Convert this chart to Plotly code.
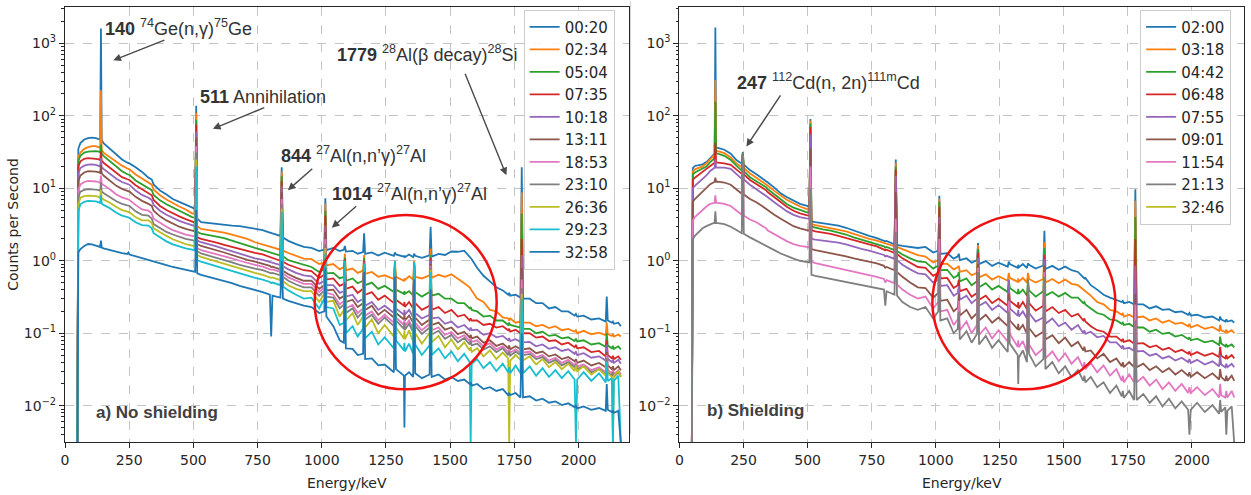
import math
import plotly.graph_objects as go

# Shared energy axis (keV) for every spectrum
ENERGY_KEV = [
    48, 52, 60, 75, 90, 105, 120, 132, 137, 140,
    143, 150, 175, 200, 222, 243, 247, 251, 275, 300,
    325, 338, 345, 370, 395, 420, 445, 470, 495, 507,
    511, 515, 530, 560, 590, 620, 650, 680, 710, 740,
    770, 798, 803, 808, 839, 844, 849, 870, 900, 930,
    960, 990, 1010, 1014, 1018, 1045, 1070, 1086, 1090, 1094,
    1120, 1140, 1161, 1165, 1169, 1195, 1220, 1245, 1281, 1285,
    1289, 1320, 1322, 1324, 1340, 1356, 1360, 1364, 1390, 1420,
    1424, 1428, 1455, 1480, 1505, 1530, 1555, 1576, 1580, 1584,
    1605, 1630, 1655, 1680, 1705, 1726, 1730, 1734, 1755, 1774,
    1779, 1784, 1810, 1835, 1860, 1885, 1910, 1935, 1960, 1985,
    1990, 1995, 2020, 2050, 2080, 2106, 2110, 2114, 2130, 2134,
    2138, 2155, 2165,
]

# ---- a) No shielding: counts per second for each acquisition time ----
A_0020 = [
    0.002, 35, 42, 47, 49, 50, 49, 48, 47, 1600,
    46, 42, 35, 29, 25, 22.5, 22.5, 22, 19.5, 16.8,
    14, 13.2, 11.3, 9.3, 8.2, 7.1, 6.5, 5.9, 5.4, 5.2,
    137, 3.8, 3.4, 3.3, 3.2, 3.15, 3.05, 3.0, 2.9, 2.8,
    2.65, 2.45, 2.4, 2.38, 2.2, 19.4, 2.1, 1.88, 1.7, 1.55,
    1.5, 1.36, 1.43, 7.3, 1.4, 1.5, 1.36, 1.42, 1.6, 1.34,
    1.37, 1.25, 1.32, 2.4, 1.24, 1.3, 1.18, 1.29, 1.17, 1.3,
    1.22, 1.14, 1.18, 1.12, 1.22, 1.12, 1.25, 1.17, 1.1, 1.19,
    2.95, 1.14, 1.24, 1.2, 1.34, 1.33, 1.38, 1.15, 1.08, 1.05,
    0.8, 0.62, 0.52, 0.43, 0.39, 0.34, 0.36, 0.33, 0.34, 0.31,
    19.4, 0.3, 0.3, 0.26, 0.26, 0.22, 0.23, 0.2, 0.2, 0.175,
    0.185, 0.17, 0.175, 0.155, 0.16, 0.145, 0.32, 0.15, 0.14, 0.145,
    0.135, 0.14, 0.125,
]
A_0234 = [
    0.002, 27, 31, 35, 37, 38, 38, 37, 36, 225,
    34, 31, 27, 23, 20.5, 18.7, 18.5, 18.2, 15.5, 13.5,
    12, 11.2, 9.6, 8, 7, 6.2, 5.6, 5.1, 4.5, 4.4,
    110, 3.0, 2.75, 2.65, 2.55, 2.45, 2.3, 2.15, 2.0, 1.8,
    1.68, 1.58, 1.55, 1.55, 1.42, 17, 1.38, 1.28, 1.18, 1.07,
    1.05, 0.9, 0.94, 6.1, 0.86, 0.9, 0.76, 0.82, 1.26, 0.74,
    0.78, 0.68, 0.73, 1.2, 0.66, 0.7, 0.6, 0.63, 0.56, 1.0,
    0.6, 0.53, 0.57, 0.54, 0.61, 0.55, 1.0, 0.6, 0.57, 0.63,
    1.47, 0.58, 0.64, 0.6, 0.65, 0.57, 0.49, 0.43, 0.4, 0.39,
    0.3, 0.27, 0.21, 0.2, 0.165, 0.16, 0.15, 0.16, 0.14, 0.145,
    8.8, 0.14, 0.14, 0.125, 0.13, 0.118, 0.125, 0.11, 0.115, 0.105,
    0.11, 0.1, 0.108, 0.097, 0.102, 0.094, 0.14, 0.097, 0.092, 0.098,
    0.09, 0.096, 0.09,
]
A_0504 = [
    0.002, 24, 28, 31, 32, 32.5, 32.5, 32, 31, 40,
    30, 28, 23.5, 19.5, 17.2, 15.6, 15.5, 15.3, 12.8, 11.2,
    10, 9.4, 8.1, 6.8, 6.0, 5.4, 4.9, 4.4, 4.0, 3.9,
    88, 2.5, 2.36, 2.25, 2.15, 2.05, 1.9, 1.75, 1.6, 1.5,
    1.4, 1.3, 1.27, 1.28, 1.18, 14.6, 1.15, 1.02, 0.95, 0.87,
    0.82, 0.7, 0.76, 4.9, 0.67, 0.68, 0.57, 0.6, 1.1, 0.53,
    0.57, 0.49, 0.53, 1.1, 0.46, 0.5, 0.41, 0.45, 0.37, 0.95,
    0.4, 0.35, 0.38, 0.35, 0.38, 0.33, 0.95, 0.37, 0.32, 0.37,
    1.2, 0.33, 0.35, 0.3, 0.3, 0.26, 0.26, 0.22, 0.23, 0.21,
    0.2, 0.17, 0.175, 0.15, 0.15, 0.13, 0.14, 0.13, 0.125, 0.12,
    4.5, 0.115, 0.115, 0.1, 0.105, 0.092, 0.095, 0.085, 0.088, 0.078,
    0.084, 0.077, 0.08, 0.07, 0.073, 0.065, 0.1, 0.068, 0.062, 0.067,
    0.061, 0.066, 0.06,
]
A_0735 = [
    0.002, 20, 23.5, 25.5, 26, 26, 25.5, 25, 24.5, 32,
    24, 22.5, 19, 16, 14.2, 13.3, 13.2, 13, 11, 9.6,
    8.6, 8, 6.9, 5.7, 5.0, 4.5, 4.1, 3.75, 3.45, 3.35,
    75, 2.1, 2.0, 1.9, 1.78, 1.66, 1.55, 1.45, 1.35, 1.28,
    1.22, 1.12, 1.1, 1.1, 1.0, 12.5, 0.97, 0.88, 0.8, 0.74,
    0.72, 0.58, 0.64, 4.2, 0.55, 0.57, 0.45, 0.48, 1.05, 0.41,
    0.44, 0.36, 0.41, 1.0, 0.34, 0.37, 0.29, 0.33, 0.26, 0.92,
    0.29, 0.24, 0.27, 0.23, 0.27, 0.22, 0.9, 0.26, 0.21, 0.24,
    1.1, 0.21, 0.23, 0.19, 0.21, 0.17, 0.18, 0.15, 0.16, 0.15,
    0.15, 0.13, 0.135, 0.12, 0.125, 0.11, 0.115, 0.105, 0.112, 0.1,
    2.0, 0.1, 0.1, 0.087, 0.09, 0.078, 0.08, 0.07, 0.074, 0.064,
    0.069, 0.062, 0.064, 0.055, 0.057, 0.048, 0.08, 0.05, 0.045, 0.049,
    0.044, 0.048, 0.043,
]
A_1018 = [
    0.002, 16, 19, 20.5, 21.2, 21.4, 21, 20.5, 20, 26,
    19.5, 18.5, 15.8, 13.5, 12.2, 11.4, 11.3, 11.2, 9.3, 8.1,
    7.4, 6.9, 5.9, 4.9, 4.3, 3.9, 3.55, 3.3, 3.1, 3.0,
    60, 1.9, 1.8, 1.7, 1.58, 1.46, 1.35, 1.25, 1.15, 1.08,
    1.03, 0.97, 0.95, 0.95, 0.87, 10.7, 0.84, 0.76, 0.68, 0.63,
    0.61, 0.48, 0.53, 3.05, 0.46, 0.46, 0.36, 0.38, 1.0, 0.32,
    0.34, 0.27, 0.3, 0.95, 0.24, 0.27, 0.21, 0.24, 0.19, 0.9,
    0.22, 0.18, 0.21, 0.18, 0.21, 0.165, 0.88, 0.19, 0.16, 0.18,
    1.0, 0.16, 0.165, 0.135, 0.145, 0.12, 0.13, 0.11, 0.12, 0.11,
    0.112, 0.095, 0.1, 0.088, 0.092, 0.08, 0.086, 0.078, 0.083, 0.076,
    1.2, 0.075, 0.076, 0.066, 0.07, 0.061, 0.064, 0.057, 0.06, 0.052,
    0.056, 0.05, 0.053, 0.046, 0.048, 0.042, 0.07, 0.044, 0.04, 0.043,
    0.039, 0.043, 0.038,
]
A_1311 = [
    0.002, 12.5, 15, 16.5, 17.2, 17.3, 17, 16.6, 16.2, 21,
    16, 15, 12.8, 10.8, 9.8, 9.2, 9.1, 9.0, 7.6, 6.7,
    6.1, 5.7, 4.9, 4.1, 3.6, 3.25, 2.95, 2.75, 2.6, 2.55,
    50, 1.7, 1.6, 1.5, 1.4, 1.3, 1.2, 1.1, 1.03, 0.97,
    0.91, 0.85, 0.82, 0.83, 0.76, 8.8, 0.73, 0.65, 0.58, 0.53,
    0.53, 0.41, 0.46, 2.5, 0.39, 0.4, 0.3, 0.33, 0.95, 0.27,
    0.29, 0.23, 0.26, 0.9, 0.21, 0.24, 0.18, 0.21, 0.165, 0.88,
    0.19, 0.155, 0.18, 0.15, 0.175, 0.14, 0.86, 0.165, 0.13, 0.155,
    0.9, 0.13, 0.14, 0.112, 0.12, 0.097, 0.105, 0.088, 0.095, 0.085,
    0.09, 0.074, 0.08, 0.067, 0.072, 0.062, 0.068, 0.06, 0.066, 0.06,
    0.8, 0.06, 0.062, 0.053, 0.056, 0.048, 0.051, 0.044, 0.047, 0.041,
    0.044, 0.039, 0.042, 0.036, 0.039, 0.034, 0.055, 0.036, 0.032, 0.035,
    0.031, 0.035, 0.031,
]
A_1853 = [
    0.002, 9.5, 11.3, 12.2, 12.6, 12.6, 12.4, 12.1, 11.8, 15,
    11.6, 11.1, 9.7, 8.2, 7.5, 7.1, 7.0, 6.9, 5.9, 5.1,
    4.9, 4.5, 3.8, 3.3, 2.95, 2.65, 2.45, 2.3, 2.2, 2.15,
    38, 1.5, 1.4, 1.32, 1.24, 1.16, 1.08, 1.0, 0.93, 0.88,
    0.83, 0.77, 0.75, 0.76, 0.7, 7.1, 0.67, 0.59, 0.53, 0.48,
    0.48, 0.37, 0.43, 2.0, 0.36, 0.34, 0.25, 0.28, 0.92, 0.22,
    0.245, 0.19, 0.22, 0.88, 0.175, 0.2, 0.15, 0.18, 0.14, 0.86,
    0.165, 0.13, 0.155, 0.125, 0.15, 0.115, 0.84, 0.14, 0.11, 0.135,
    0.85, 0.11, 0.12, 0.095, 0.104, 0.085, 0.094, 0.078, 0.085, 0.076,
    0.08, 0.066, 0.073, 0.06, 0.066, 0.055, 0.06, 0.054, 0.06, 0.054,
    0.55, 0.054, 0.056, 0.047, 0.05, 0.042, 0.046, 0.039, 0.043, 0.036,
    0.04, 0.035, 0.037, 0.031, 0.034, 0.029, 0.05, 0.031, 0.028, 0.031,
    0.027, 0.031, 0.027,
]
A_2310 = [
    0.002, 7.5, 9.0, 9.5, 9.7, 9.7, 9.6, 9.4, 9.2, 12,
    9.0, 8.6, 7.6, 6.6, 6.1, 5.8, 5.75, 5.7, 4.8, 4.3,
    4.2, 3.8, 3.2, 2.8, 2.5, 2.3, 2.15, 2.0, 1.92, 1.88,
    31, 1.35, 1.26, 1.18, 1.1, 1.02, 0.95, 0.88, 0.82, 0.78,
    0.74, 0.69, 0.67, 0.68, 0.63, 6.1, 0.6, 0.53, 0.47, 0.43,
    0.43, 0.33, 0.39, 1.7, 0.32, 0.31, 0.22, 0.25, 0.9, 0.19,
    0.22, 0.165, 0.2, 0.86, 0.155, 0.18, 0.135, 0.165, 0.125, 0.85,
    0.15, 0.115, 0.14, 0.112, 0.135, 0.103, 0.82, 0.126, 0.098, 0.12,
    0.8, 0.096, 0.108, 0.084, 0.095, 0.075, 0.086, 0.07, 0.078, 0.068,
    0.072, 0.06, 0.066, 0.055, 0.062, 0.05, 0.056, 0.049, 0.056, 0.05,
    0.42, 0.05, 0.052, 0.044, 0.047, 0.039, 0.043, 0.036, 0.04, 0.034,
    0.037, 0.032, 0.035, 0.029, 0.032, 0.027, 0.045, 0.029, 0.026, 0.029,
    0.025, 0.029, 0.025,
]
A_2636 = [
    0.002, 6.0, 7.4, 7.8, 7.9, 7.9, 7.8, 7.6, 7.4, 9.5,
    7.3, 7.0, 6.3, 5.5, 5.0, 4.75, 4.7, 4.65, 4.0, 3.6,
    3.6, 3.3, 2.8, 2.45, 2.2, 1.98, 1.82, 1.7, 1.62, 1.58,
    25, 1.2, 1.13, 1.05, 0.98, 0.9, 0.84, 0.78, 0.72, 0.68,
    0.64, 0.6, 0.58, 0.59, 0.54, 5.2, 0.52, 0.46, 0.41, 0.38,
    0.38, 0.27, 0.35, 1.5, 0.27, 0.28, 0.17, 0.21, 0.88, 0.15,
    0.19, 0.13, 0.17, 0.84, 0.12, 0.155, 0.1, 0.13, 0.09, 0.84,
    0.12, 0.085, 0.11, 0.082, 0.11, 0.075, 0.8, 0.1, 0.072, 0.1,
    0.75, 0.075, 0.092, 0.064, 0.082, 0.06, 0.075, 0.058, 0.064, 0.055,
    0.062, 0.048, 0.058, 0.044, 0.054, 0.045, 0.003, 0.042, 0.05, 0.043,
    0.35, 0.042, 0.048, 0.037, 0.044, 0.034, 0.04, 0.032, 0.038, 0.03,
    0.036, 0.03, 0.035, 0.027, 0.032, 0.026, 0.04, 0.028, 0.025, 0.003,
    0.026, 0.03, 0.025,
]
A_2923 = [
    0.002, 4.8, 6.0, 6.5, 6.7, 6.7, 6.6, 6.4, 6.2, 8.0,
    6.1, 5.9, 5.3, 4.6, 4.2, 4.0, 3.95, 3.9, 3.4, 3.1,
    3.06, 2.8, 2.4, 2.1, 1.85, 1.68, 1.57, 1.48, 1.42, 1.38,
    20, 1.03, 0.97, 0.9, 0.84, 0.78, 0.72, 0.66, 0.61, 0.58,
    0.55, 0.51, 0.49, 0.5, 0.46, 4.7, 0.44, 0.39, 0.34, 0.3,
    0.31, 0.22, 0.3, 1.25, 0.23, 0.22, 0.13, 0.14, 1.0, 0.1,
    0.125, 0.09, 0.115, 0.9, 0.085, 0.105, 0.07, 0.088, 0.062, 1.0,
    0.08, 0.058, 0.074, 0.056, 0.072, 0.052, 0.95, 0.07, 0.05, 0.068,
    0.7, 0.05, 0.062, 0.045, 0.056, 0.041, 0.052, 0.04, 0.003, 0.038,
    0.044, 0.033, 0.04, 0.03, 0.038, 0.029, 0.034, 0.028, 0.036, 0.028,
    0.3, 0.028, 0.035, 0.026, 0.033, 0.025, 0.031, 0.024, 0.03, 0.023,
    0.003, 0.023, 0.029, 0.022, 0.028, 0.021, 0.04, 0.022, 0.024, 0.003,
    0.022, 0.026, 0.003,
]
A_3258 = [
    0.002, 1.3, 1.45, 1.6, 1.7, 1.68, 1.62, 1.58, 1.55, 1.9,
    1.52, 1.48, 1.4, 1.32, 1.27, 1.24, 1.3, 1.22, 1.15, 1.08,
    1.02, 0.98, 0.96, 0.92, 0.87, 0.82, 0.78, 0.74, 0.71, 0.7,
    5, 0.67, 0.64, 0.6, 0.56, 0.53, 0.49, 0.45, 0.42, 0.4,
    0.37, 0.34, 0.09, 0.33, 0.31, 1.0, 0.3, 0.28, 0.26, 0.24,
    0.23, 0.19, 0.2, 0.8, 0.17, 0.125, 0.08, 0.074, 0.5, 0.062,
    0.061, 0.05, 0.052, 0.7, 0.044, 0.045, 0.036, 0.037, 0.029, 0.6,
    0.032, 0.026, 0.005, 0.026, 0.029, 0.025, 0.55, 0.028, 0.024, 0.027,
    0.4, 0.025, 0.027, 0.023, 0.025, 0.022, 0.023, 0.02, 0.021, 0.019,
    0.02, 0.017, 0.018, 0.016, 0.017, 0.014, 0.015, 0.014, 0.015, 0.013,
    0.1, 0.013, 0.0135, 0.0118, 0.0125, 0.011, 0.0115, 0.0102, 0.0108, 0.0095,
    0.01, 0.0092, 0.0098, 0.0088, 0.0093, 0.0085, 0.02, 0.0088, 0.0082, 0.0086,
    0.008, 0.0085, 0.003,
]

# ---- b) Shielding ----
B_0200 = [
    0.002, 19, 20.3, 21, 21.4, 23, 26, 28, 30, 1650,
    36, 36, 34, 30, 24.5, 21.8, 31.5, 21.2, 17.8, 15.6,
    13.6, 12.6, 12, 10.2, 8.5, 7.5, 6.7, 6.1, 5.75, 5.6,
    90, 3.5, 3.4, 3.3, 3.2, 3.05, 2.85, 2.6, 2.4, 2.2,
    2.05, 1.9, 1.85, 1.88, 1.68, 25, 1.66, 1.6, 1.55, 1.5,
    1.55, 1.3, 1.38, 7.9, 1.24, 1.27, 1.07, 1.15, 1.25, 1.02,
    1.08, 0.94, 1.02, 1.75, 0.9, 0.99, 0.85, 0.94, 0.83, 0.97,
    0.9, 0.8, 0.88, 0.81, 0.9, 0.79, 0.92, 0.88, 0.78, 0.86,
    2.6, 0.77, 0.85, 0.75, 0.83, 0.74, 0.7, 0.6, 0.57, 0.58,
    0.46, 0.4, 0.34, 0.31, 0.29, 0.27, 0.28, 0.26, 0.27, 0.25,
    9.7, 0.25, 0.25, 0.22, 0.235, 0.21, 0.215, 0.195, 0.2, 0.18,
    0.19, 0.175, 0.18, 0.165, 0.17, 0.15, 0.17, 0.155, 0.145, 0.155,
    0.145, 0.15, 0.14,
]
B_0318 = [
    0.002, 17, 18.2, 19, 20, 22, 25, 27, 29, 310,
    32.6, 32.6, 30.5, 26.5, 22, 19.5, 30.5, 19, 16, 14,
    12.3, 11.5, 10.8, 9.2, 7.9, 6.9, 6.2, 5.6, 5.2, 5.05,
    85, 3.2, 3.1, 2.95, 2.85, 2.7, 2.55, 2.35, 2.15, 2.0,
    1.9, 1.78, 1.72, 1.74, 1.58, 22.5, 1.55, 1.45, 1.32, 1.2,
    1.14, 0.95, 1.02, 7.1, 0.9, 0.91, 0.76, 0.81, 0.85, 0.7,
    0.74, 0.63, 0.68, 1.65, 0.59, 0.65, 0.55, 0.61, 0.53, 0.68,
    0.58, 0.51, 0.57, 0.51, 0.58, 0.5, 0.68, 0.56, 0.5, 0.56,
    1.8, 0.5, 0.56, 0.49, 0.55, 0.48, 0.46, 0.4, 0.38, 0.38,
    0.33, 0.27, 0.25, 0.21, 0.2, 0.18, 0.19, 0.17, 0.18, 0.165,
    6.7, 0.165, 0.17, 0.15, 0.16, 0.14, 0.15, 0.135, 0.14, 0.125,
    0.135, 0.12, 0.13, 0.115, 0.122, 0.108, 0.13, 0.11, 0.104, 0.112,
    0.102, 0.11, 0.1,
]
B_0442 = [
    0.002, 15.5, 16.5, 17.5, 18.5, 20, 23, 25, 27, 156,
    30, 30, 28, 24.5, 20.5, 17.5, 30, 17.2, 14.2, 12.6,
    11, 10.3, 9.7, 8.2, 6.9, 6.0, 5.4, 5.0, 4.7, 4.6,
    78, 2.95, 2.85, 2.7, 2.6, 2.45, 2.3, 2.1, 1.95, 1.82,
    1.72, 1.58, 1.52, 1.55, 1.4, 20, 1.36, 1.22, 1.08, 0.98,
    0.96, 0.78, 0.86, 6.5, 0.74, 0.75, 0.58, 0.63, 0.7, 0.52,
    0.57, 0.46, 0.52, 1.45, 0.43, 0.49, 0.4, 0.45, 0.37, 0.55,
    0.42, 0.35, 0.41, 0.35, 0.4, 0.33, 0.55, 0.39, 0.32, 0.38,
    1.5, 0.33, 0.37, 0.32, 0.36, 0.31, 0.31, 0.26, 0.27, 0.25,
    0.22, 0.19, 0.18, 0.155, 0.15, 0.135, 0.14, 0.13, 0.135, 0.122,
    4.0, 0.12, 0.12, 0.105, 0.112, 0.098, 0.102, 0.09, 0.095, 0.083,
    0.088, 0.08, 0.084, 0.075, 0.079, 0.069, 0.09, 0.072, 0.066, 0.071,
    0.065, 0.07, 0.064,
]
B_0648 = [
    0.002, 13, 14, 15.5, 17, 18.5, 20.3, 21.5, 22.5, 42,
    22.5, 22.5, 22, 21, 18, 15.8, 29.5, 15.5, 13, 11.4,
    10, 9.4, 8.8, 7.5, 6.3, 5.5, 4.9, 4.5, 4.25, 4.15,
    70, 2.65, 2.55, 2.45, 2.35, 2.2, 2.05, 1.9, 1.78, 1.68,
    1.58, 1.45, 1.4, 1.42, 1.28, 18.2, 1.24, 1.08, 0.93, 0.82,
    0.8, 0.62, 0.68, 5.5, 0.57, 0.58, 0.42, 0.46, 0.55, 0.38,
    0.41, 0.32, 0.36, 1.3, 0.29, 0.33, 0.26, 0.3, 0.24, 0.45,
    0.28, 0.23, 0.27, 0.22, 0.27, 0.215, 0.45, 0.26, 0.205, 0.24,
    1.2, 0.2, 0.23, 0.19, 0.21, 0.17, 0.185, 0.15, 0.16, 0.145,
    0.125, 0.11, 0.105, 0.09, 0.09, 0.078, 0.084, 0.076, 0.08, 0.072,
    2.0, 0.072, 0.073, 0.064, 0.068, 0.059, 0.063, 0.055, 0.059, 0.052,
    0.056, 0.05, 0.055, 0.049, 0.053, 0.047, 0.065, 0.049, 0.045, 0.05,
    0.045, 0.05, 0.045,
]
B_0755 = [
    0.002, 10, 10.8, 12, 13.5, 15, 17.3, 18.5, 19.2, 25,
    19.2, 19.2, 19.2, 18.5, 15.5, 13.5, 29, 13.2, 11.2, 9.7,
    8.5, 8.0, 7.5, 6.4, 5.5, 4.8, 4.3, 4.0, 3.85, 3.8,
    55, 2.0, 1.95, 1.9, 1.85, 1.78, 1.68, 1.56, 1.46, 1.38,
    1.3, 1.2, 1.15, 1.17, 1.06, 14.7, 1.02, 0.88, 0.76, 0.67,
    0.65, 0.5, 0.55, 4.0, 0.45, 0.46, 0.33, 0.36, 0.45, 0.29,
    0.33, 0.26, 0.3, 1.1, 0.24, 0.27, 0.21, 0.245, 0.19, 0.55,
    0.22, 0.175, 0.21, 0.17, 0.2, 0.16, 0.4, 0.19, 0.145, 0.165,
    1.05, 0.135, 0.16, 0.125, 0.14, 0.112, 0.13, 0.1, 0.11, 0.098,
    0.105, 0.088, 0.092, 0.075, 0.075, 0.063, 0.068, 0.061, 0.063, 0.057,
    0.85, 0.056, 0.057, 0.049, 0.052, 0.045, 0.048, 0.042, 0.046, 0.04,
    0.044, 0.039, 0.043, 0.037, 0.041, 0.035, 0.05, 0.037, 0.034, 0.038,
    0.034, 0.038, 0.034,
]
B_0901 = [
    0.002, 6.5, 7.1, 8.0, 9.0, 10.2, 11.4, 12, 12.3, 14,
    12.3, 12.3, 12, 11.2, 9.8, 8.4, 28.5, 8.2, 7.1, 6.4,
    5.6, 5.2, 4.9, 4.3, 3.8, 3.35, 3.0, 2.8, 2.62, 2.58,
    35, 1.45, 1.4, 1.34, 1.28, 1.22, 1.15, 1.08, 1.02, 0.97,
    0.92, 0.85, 0.8, 0.82, 0.74, 8.8, 0.7, 0.6, 0.5, 0.43,
    0.42, 0.31, 0.36, 3.2, 0.28, 0.29, 0.2, 0.225, 0.35, 0.175,
    0.21, 0.16, 0.19, 0.9, 0.15, 0.18, 0.14, 0.165, 0.125, 0.35,
    0.15, 0.113, 0.135, 0.11, 0.13, 0.098, 0.3, 0.118, 0.09, 0.105,
    0.85, 0.082, 0.094, 0.073, 0.087, 0.066, 0.076, 0.058, 0.065, 0.056,
    0.058, 0.045, 0.052, 0.04, 0.045, 0.035, 0.04, 0.034, 0.04, 0.034,
    0.35, 0.034, 0.038, 0.031, 0.035, 0.029, 0.033, 0.027, 0.031, 0.026,
    0.029, 0.025, 0.029, 0.024, 0.028, 0.023, 0.032, 0.025, 0.022, 0.026,
    0.022, 0.026, 0.022,
]
B_1154 = [
    0.002, 3.6, 4.0, 4.5, 5.0, 5.6, 6.1, 6.3, 6.3, 8,
    6.3, 6.3, 6.1, 5.7, 5.0, 4.3, 28, 4.2, 3.7, 3.4,
    3.0, 2.8, 2.6, 2.3, 2.05, 1.85, 1.7, 1.6, 1.55, 1.52,
    20, 0.97, 0.93, 0.88, 0.84, 0.8, 0.76, 0.72, 0.68, 0.64,
    0.6, 0.56, 0.5, 0.54, 0.49, 3.8, 0.47, 0.4, 0.34, 0.3,
    0.32, 0.22, 0.27, 2.0, 0.2, 0.21, 0.13, 0.155, 0.28, 0.11,
    0.145, 0.1, 0.13, 0.8, 0.095, 0.12, 0.085, 0.11, 0.077, 0.28,
    0.098, 0.065, 0.08, 0.064, 0.078, 0.055, 0.28, 0.07, 0.05, 0.062,
    0.7, 0.045, 0.056, 0.041, 0.053, 0.038, 0.047, 0.033, 0.04, 0.032,
    0.039, 0.029, 0.036, 0.026, 0.032, 0.022, 0.026, 0.021, 0.027, 0.021,
    0.25, 0.021, 0.025, 0.019, 0.023, 0.017, 0.021, 0.016, 0.02, 0.015,
    0.018, 0.015, 0.018, 0.014, 0.017, 0.013, 0.02, 0.014, 0.013, 0.016,
    0.013, 0.016, 0.013,
]
B_2113 = [
    0.002, 2.0, 2.2, 2.5, 2.8, 3.0, 3.2, 3.3, 3.3, 4.8,
    3.3, 3.3, 3.2, 2.95, 2.65, 2.4, 29, 2.35, 2.1, 1.9,
    1.72, 1.62, 1.55, 1.4, 1.26, 1.15, 1.07, 1.0, 0.96, 0.95,
    10, 0.64, 0.62, 0.59, 0.57, 0.54, 0.52, 0.49, 0.46, 0.44,
    0.42, 0.4, 0.24, 0.38, 0.34, 2.5, 0.33, 0.27, 0.23, 0.21,
    0.23, 0.16, 0.2, 1.3, 0.15, 0.16, 0.1, 0.115, 0.2, 0.082,
    0.107, 0.074, 0.098, 0.7, 0.07, 0.092, 0.063, 0.08, 0.055, 0.2,
    0.072, 0.05, 0.02, 0.046, 0.058, 0.04, 0.54, 0.052, 0.035, 0.044,
    0.6, 0.032, 0.04, 0.028, 0.035, 0.025, 0.031, 0.022, 0.026, 0.021,
    0.025, 0.018, 0.021, 0.015, 0.019, 0.0135, 0.016, 0.0128, 0.016, 0.012,
    0.15, 0.012, 0.0145, 0.011, 0.0135, 0.0098, 0.0125, 0.0092, 0.0115, 0.0088,
    0.004, 0.0088, 0.011, 0.0082, 0.0102, 0.0078, 0.012, 0.0082, 0.0095, 0.004,
    0.0085, 0.0098, 0.003,
]
B_3246 = []  # this acquisition leaves no trace inside the plotted range

SERIES_A = [
    ("00:20", A_0020), ("02:34", A_0234), ("05:04", A_0504), ("07:35", A_0735),
    ("10:18", A_1018), ("13:11", A_1311), ("18:53", A_1853), ("23:10", A_2310),
    ("26:36", A_2636), ("29:23", A_2923), ("32:58", A_3258),
]
SERIES_B = [
    ("02:00", B_0200), ("03:18", B_0318), ("04:42", B_0442), ("06:48", B_0648),
    ("07:55", B_0755), ("09:01", B_0901), ("11:54", B_1154), ("21:13", B_2113),
    ("32:46", B_3246),
]

Y_TICK_VALS = [0.01, 0.1, 1, 10, 100, 1000]
Y_TICK_TEXT = ["10<sup>\u22122</sup>", "10<sup>\u22121</sup>", "10<sup>0</sup>",
               "10<sup>1</sup>", "10<sup>2</sup>", "10<sup>3</sup>"]

TAB10 = ["#1f77b4", "#ff7f0e", "#2ca02c", "#d62728", "#9467bd",
         "#8c564b", "#e377c2", "#7f7f7f", "#bcbd22", "#17becf"]

for _, vals in SERIES_A + SERIES_B:
    assert len(vals) in (0, len(ENERGY_KEV)), len(vals)


def spectrum_trace(label, counts, color, axis, legend_id):
    xs = ENERGY_KEV[:len(counts)] if counts else [None]
    ys = counts if counts else [None]
    return go.Scatter(
        x=xs, y=ys, mode="lines", name=label,
        line=dict(color=color, width=1.8),
        xaxis="x" + axis, yaxis="y" + axis,
        legend=legend_id, showlegend=True,
    )


fig = go.Figure()
for i, (label, counts) in enumerate(SERIES_A):
    fig.add_trace(spectrum_trace(label, counts, TAB10[i % 10], "", "legend"))
for i, (label, counts) in enumerate(SERIES_B):
    fig.add_trace(spectrum_trace(label, counts, TAB10[i % 10], "2", "legend2"))

TICK_FONT = dict(family="DejaVu Sans", size=14, color="#262626")
TITLE_FONT = dict(family="DejaVu Sans", size=14, color="#262626")
minor_vals = [m * 10.0 ** k for k in range(-3, 4) for m in range(2, 10)]

common_x = dict(
    dtick=250, tick0=0, showgrid=True, gridcolor="#c4c4c4", griddash="dash",
    gridwidth=1, zeroline=False, showline=True, mirror=True,
    linecolor="#262626", linewidth=1.2, ticks="outside", ticklen=5,
    tickcolor="#262626", tickfont=TICK_FONT,
    title=dict(text="Energy/keV", font=TITLE_FONT, standoff=11),
)
common_y = dict(
    type="log", range=[-2.5, 3.5], tickvals=Y_TICK_VALS, ticktext=Y_TICK_TEXT,
    showgrid=True, gridcolor="#c4c4c4", griddash="dash", gridwidth=1,
    zeroline=False, showline=True, mirror=True, linecolor="#262626",
    linewidth=1.2, ticks="outside", ticklen=5, tickcolor="#262626",
    tickfont=TICK_FONT,
    minor=dict(tickvals=minor_vals, ticks="outside", ticklen=2.5,
               tickcolor="#262626", showgrid=False),
)

legend_common = dict(
    xanchor="left", yanchor="top", bgcolor="rgba(255,255,255,0.85)",
    bordercolor="#cccccc", borderwidth=1, traceorder="normal",
    font=dict(family="DejaVu Sans", size=15, color="#262626"),
)

fig.update_layout(
    width=1251, height=495,
    margin=dict(l=65, r=6, t=6, b=50),
    paper_bgcolor="white", plot_bgcolor="white",
    xaxis=dict(domain=[0, 0.478], range=[0, 2195], anchor="y", **common_x),
    yaxis=dict(domain=[0, 1], anchor="x",
               title=dict(text="Counts per Second", font=TITLE_FONT, standoff=1),
               **common_y),
    xaxis2=dict(domain=[0.5212, 1], range=[0, 2203], anchor="y2", **common_x),
    yaxis2=dict(domain=[0, 1], anchor="x2", **common_y),
    legend=dict(x=0.389, y=0.994, **legend_common),
    legend2=dict(x=0.9119, y=0.994, **legend_common),
    showlegend=True,
)

# Peak labels with arrows: (axis suffix, text, text E, text value, head E, head value, tail E, tail value)
ANNOT_FONT = dict(family="Liberation Sans", size=18, color="#333333")
PEAK_NOTES = [
    ("", "<b>140</b> <sup>74</sup>Ge(n,\u03b3)<sup>75</sup>Ge", 149, 1637, 188, 581, 393, 1122),
    ("", "<b>511</b> Annihilation", 518, 181, 576, 66, 782, 132),
    ("", "<b>844</b> <sup>27</sup>Al(n,n\u2019\u03b3)<sup>27</sup>Al", 833, 29.2, 868, 9.4, 969, 19.4),
    ("", "<b>1014</b> <sup>27</sup>Al(n,n\u2019\u03b3)<sup>27</sup>Al", 1031, 8.85, 1039, 2.85, 1140, 5.87),
    ("", "<b>1779</b> <sup>28</sup>Al(\u03b2 decay)<sup>28</sup>Si", 1050, 723, 1719, 15.1, 1556, 398),
    ("2", "<b>247</b> <sup>112</sup>Cd(n, 2n)<sup>111m</sup>Cd", 215, 299, 261, 37.6, 398, 200),
]
for ax, text, tx, tv, hx, hv, ex, ev in PEAK_NOTES:
    fig.add_annotation(
        xref="x" + ax, yref="y" + ax, x=tx, y=math.log10(tv), text=text,
        showarrow=False, xanchor="left", yanchor="middle", font=ANNOT_FONT,
    )
    fig.add_annotation(
        xref="x" + ax, yref="y" + ax, x=hx, y=math.log10(hv),
        axref="x" + ax, ayref="y" + ax, ax=ex, ay=math.log10(ev),
        text="", showarrow=True, arrowhead=2, arrowsize=1.1, arrowwidth=1.4,
        arrowcolor="#4a4a4a", standoff=0, startstandoff=0,
    )

PANEL_FONT = dict(family="Liberation Sans", size=17, color="#404040")
fig.add_annotation(xref="x", yref="y", x=114, y=math.log10(0.0082),
                   text="<b>a) No shielding</b>", showarrow=False,
                   xanchor="left", yanchor="middle", font=PANEL_FONT)
fig.add_annotation(xref="x2", yref="y2", x=101, y=math.log10(0.0085),
                   text="<b>b) Shielding</b>", showarrow=False,
                   xanchor="left", yanchor="middle", font=PANEL_FONT)

# Red circles marking the 1000-1700 keV region in each panel
fig.add_shape(type="circle", xref="x domain", yref="y domain",
              x0=0.443, x1=0.766, y0=0.121, y1=0.522,
              line=dict(color="#f01010", width=2.5))
fig.add_shape(type="circle", xref="x2 domain", yref="y2 domain",
              x0=0.448, x1=0.772, y0=0.121, y1=0.522,
              line=dict(color="#f01010", width=2.5))

# Thin divider between the two panels
fig.add_shape(type="line", xref="paper", yref="paper",
              x0=0.4797, x1=0.4797, y0=0.018, y1=1.0137,
              line=dict(color="#d4d4d4", width=1))

fig.write_html("out.html")
